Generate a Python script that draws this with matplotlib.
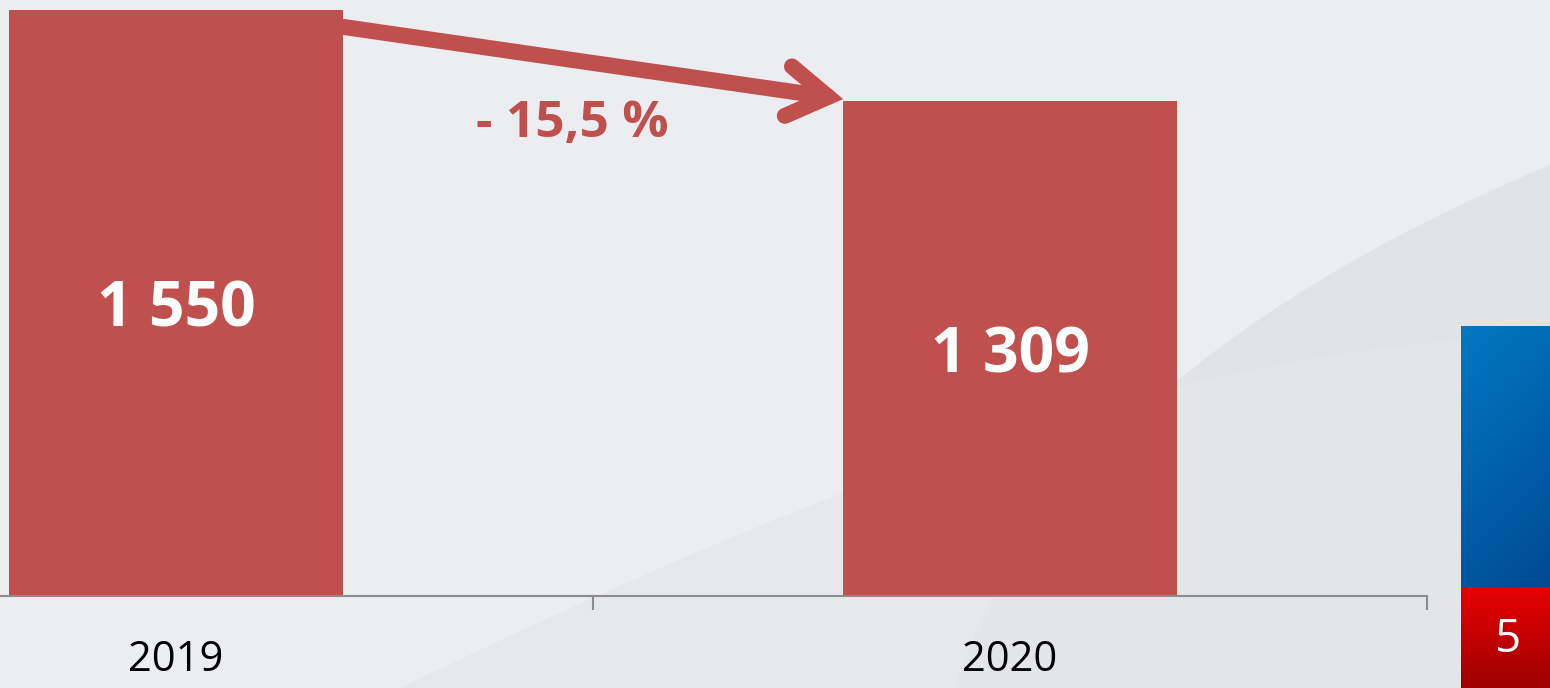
import numpy as np
import matplotlib
matplotlib.use("Agg")
import matplotlib.pyplot as plt
from matplotlib.path import Path
from matplotlib.patches import PathPatch, FancyArrowPatch

# data
years = ["2019", "2020"]
values = [1550, 1309]
value_labels = ["1 550", "1 309"]
page_number = "5"

BAR = "#C0504D"
BG = "#ECEDF0"
W, H = 1550, 688

plt.rcParams["font.family"] = ["Open Sans", "DejaVu Sans"]

fig = plt.figure(figsize=(W / 100, H / 100), dpi=100)
fig.patch.set_facecolor(BG)

# background decoration, pixel coords
bg = fig.add_axes([0, 0, 1, 1], zorder=0)
bg.set_xlim(0, W)
bg.set_ylim(H, 0)
bg.axis("off")

band = Path([(1550, 165), (1250, 290), (1020, 470), (955, 688), (1550, 688), (1550, 165)],
            [Path.MOVETO, Path.CURVE4, Path.CURVE4, Path.CURVE4, Path.LINETO, Path.CLOSEPOLY])
bg.add_patch(PathPatch(band, facecolor="#E2E3E6", edgecolor="none", zorder=1))
low = Path([(400, 688), (750, 520), (1100, 370), (1460, 340), (1550, 340), (1550, 688), (400, 688)],
           [Path.MOVETO, Path.CURVE4, Path.CURVE4, Path.CURVE4, Path.LINETO, Path.LINETO, Path.CLOSEPOLY])
bg.add_patch(PathPatch(low, facecolor="#E6E7E9", edgecolor="none", alpha=0.7, zorder=1))

# slide-number block on the right
gx, gy = np.meshgrid(np.linspace(0, 1, 20), np.linspace(0, 1, 60))
t = np.clip(0.75 * gy + 0.25 * gx, 0, 1)[..., None]
blue = (1 - t) * np.array([0.0, 0.47, 0.76]) + t * np.array([0.0, 0.29, 0.58])
bg.imshow(blue, extent=(1461, 1550, 588, 326), aspect="auto", interpolation="bilinear", zorder=3)
t2 = np.linspace(0, 1, 40)[:, None, None] * np.ones((1, 5, 1))
red = (1 - t2) * np.array([0.90, 0.0, 0.0]) + t2 * np.array([0.62, 0.0, 0.0])
bg.imshow(red, extent=(1461, 1550, 688, 588), aspect="auto", interpolation="bilinear", zorder=3)
bg.text(1507, 640, page_number, color="white", fontsize=33, ha="center", va="center", zorder=4)
bg.set_xlim(0, W)
bg.set_ylim(H, 0)

# main chart
ax = fig.add_axes([0, 92 / H, 1427 / W, 596 / H], zorder=1)
ax.patch.set_visible(False)
x = np.arange(len(years))
bar_w = 0.4
ax.bar(x, values, width=bar_w, color=BAR, zorder=2)
ax.set_xlim(-0.211, 1.5)
ax.set_ylim(0, 1576)

for s in ["top", "right", "left"]:
    ax.spines[s].set_visible(False)
ax.spines["bottom"].set_color("#8C8C8C")
ax.spines["bottom"].set_linewidth(1.5)
ax.set_yticks([])
ax.set_xticks(x)
ax.set_xticklabels(years, fontsize=30, color="black")
ax.tick_params(axis="x", which="major", length=0, pad=31)
ax.set_xticks([0.5, 1.5], minor=True)
ax.tick_params(axis="x", which="minor", length=10, width=1.5, color="#8C8C8C")

for xi, v, lab in zip(x, values, value_labels):
    ax.text(xi, v / 2, lab, color="white", fontsize=45, fontweight="bold",
            ha="center", va="center_baseline", zorder=3)

# change arrow
change = (values[1] - values[0]) / values[0] * 100
arrow = FancyArrowPatch((x[0] + bar_w / 2, values[0] - 45), (x[1] - bar_w / 2, values[1] + 5),
                        arrowstyle="->,head_length=29,head_width=18", mutation_scale=1,
                        shrinkA=0, shrinkB=0, color=BAR, linewidth=11.5,
                        capstyle="round", joinstyle="miter", zorder=3)
ax.add_patch(arrow)
ax.text(0.475, values[1] - 45, "- " + f"{abs(change):.1f}".replace(".", ",") + " %",
        color=BAR, fontsize=37, fontweight="bold", ha="center", va="center_baseline", zorder=3)

fig.savefig("out.png", dpi=100, facecolor=BG)
